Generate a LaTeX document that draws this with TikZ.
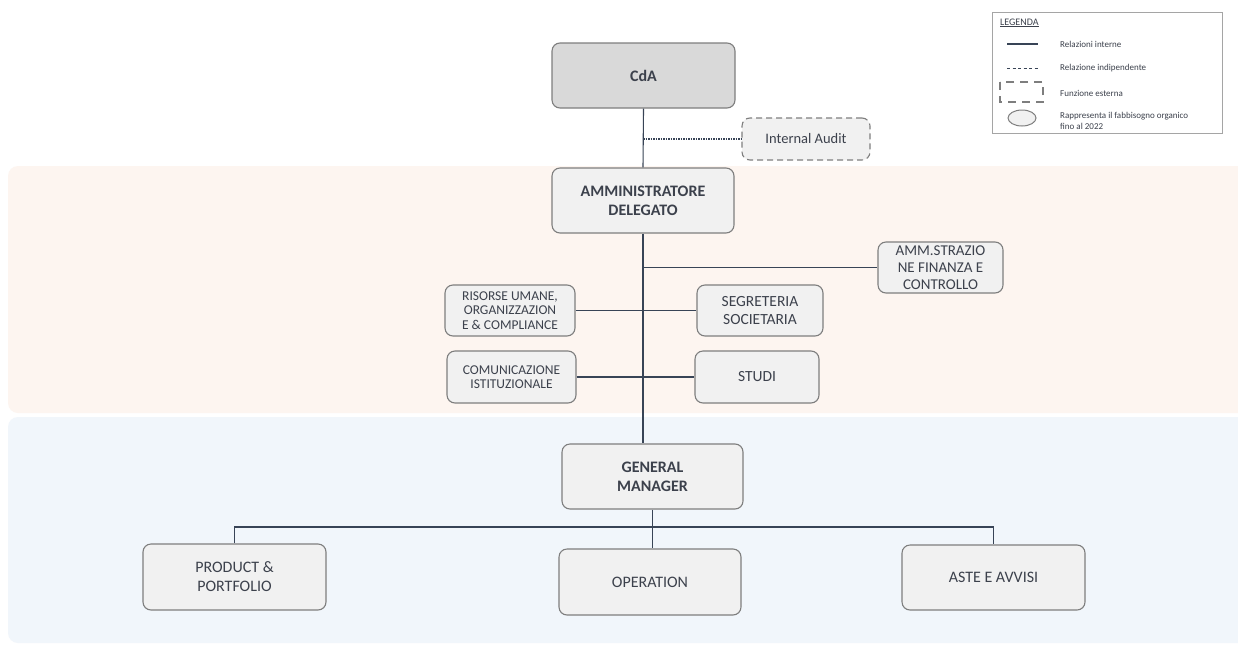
\documentclass[tikz,border=0pt]{standalone}
\usepackage{fontspec}
\setmainfont{Carlito}
\definecolor{peach}{HTML}{FDF5F0}
\definecolor{bluebg}{HTML}{F1F6FB}
\definecolor{boxfill}{HTML}{F1F1F1}
\definecolor{cdafill}{HTML}{D9D9D9}
\definecolor{boxline}{HTML}{7E7E7E}
\definecolor{linec}{HTML}{384456}
\definecolor{txt}{HTML}{3C414C}
\begin{document}
\begin{tikzpicture}[x=1pt,y=-1pt,
  box/.style={draw=boxline, line width=1.1pt, fill=boxfill, rounded corners=8pt,
    align=center, inner sep=0pt, text=txt, font=\fontsize{16}{19}\selectfont},
  conn/.style={draw=linec, line width=1.1pt},
  dotconn/.style={draw=linec, line width=1.1pt, dash pattern=on 1.5pt off 1pt},
  legtext/.style={anchor=west, text=txt, font=\fontsize{9}{11.5}\selectfont, align=left, inner sep=0pt},
]
\useasboundingbox (0,0) rectangle (1238,645);
\fill[white] (0,0) rectangle (1238,645);
\fill[peach, rounded corners=10pt] (8,166) rectangle (1250,413);
\fill[bluebg, rounded corners=10pt] (8,417) rectangle (1250,643);

% nodes
\node[box, fill=cdafill, minimum width=183pt, minimum height=65pt] (cda) at (643.5,75.5) {\textbf{CdA}};
\node[box, dash pattern=on 6pt off 4pt, minimum width=128pt, minimum height=42pt,
  font=\fontsize{14.5}{17}\selectfont] (ia) at (806,139) {Internal Audit};
\node[box, minimum width=182pt, minimum height=65pt] (ad) at (643,200.5) {\textbf{AMMINISTRATORE}\\\textbf{DELEGATO}};
\node[box, minimum width=125pt, minimum height=51pt, font=\fontsize{15}{16.7}\selectfont] (amm) at (940.5,267.5) {AMM.STRAZIO\\NE FINANZA E\\CONTROLLO};
\node[box, minimum width=130pt, minimum height=51pt, font=\fontsize{13.5}{14.5}\selectfont] (ris) at (510,310.5) {RISORSE UMANE,\\ORGANIZZAZION\\E \& COMPLIANCE};
\node[box, minimum width=126pt, minimum height=51pt, font=\fontsize{15.5}{18}\selectfont] (seg) at (760,310.5) {SEGRETERIA\\SOCIETARIA};
\node[box, minimum width=129pt, minimum height=52pt, font=\fontsize{13.5}{14.5}\selectfont] (com) at (511.5,377) {COMUNICAZIONE\\ISTITUZIONALE};
\node[box, minimum width=124pt, minimum height=52pt, font=\fontsize{15.5}{18}\selectfont] (stu) at (757,377) {STUDI};
\node[box, minimum width=181pt, minimum height=65pt] (gm) at (652.5,476.5) {\textbf{GENERAL}\\\textbf{MANAGER}};
\node[box, minimum width=183pt, minimum height=66pt] (prod) at (234.5,577) {PRODUCT \&\\PORTFOLIO};
\node[box, minimum width=182pt, minimum height=66pt] (op) at (650,582) {OPERATION};
\node[box, minimum width=183pt, minimum height=65pt] (aste) at (993.5,577.5) {ASTE E AVVISI};

% connectors
\coordinate (tia) at (643,139);
\coordinate (tamm) at (643,267.5);
\coordinate (br) at (652,527);
\draw[conn] (cda.south) -- (ad.north);
\draw[dotconn] (tia) -- (ia.west);
\draw[conn] (ad.south) -- (ad.south |- gm.north);
\draw[conn] (tamm) -- (amm.west);
\draw[conn] (ris.east) -- (seg.west);
\draw[conn] (com.east) -- (stu.west);
\draw[conn] (gm.south) -- (gm.south |- op.north);
\draw[conn] (prod.north) -- (prod.north |- br) -- (aste.north |- br) -- (aste.north);

% legend
\draw[draw=boxline!70, line width=0.8pt, fill=white] (992,12) rectangle (1222,133);
\node[legtext, font=\fontsize{10}{12}\selectfont] (lg) at (1000,23) {\underline{LEGENDA}};
\draw[linec, line width=1.2pt] (1007,44) -- (1038,44);
\node[legtext] (l1) at (1060,44) {Relazioni interne};
\draw[linec, line width=1pt, dash pattern=on 3pt off 2.5pt] (1007,68) -- (1038,68);
\node[legtext] (l2) at (1060,68) {Relazione indipendente};
\draw[boxline, line width=1.5pt, dash pattern=on 8pt off 6pt] (1000,82) rectangle (1043,102);
\node[legtext] (l3) at (1060,93) {Funzione esterna};
\draw[boxline, line width=1pt, fill=boxfill] (1022,118) ellipse [x radius=14pt, y radius=8pt];
\node[legtext] (l4) at (1060,121) {Rappresenta il fabbisogno organico\\fino al 2022};
\end{tikzpicture}
\end{document}
